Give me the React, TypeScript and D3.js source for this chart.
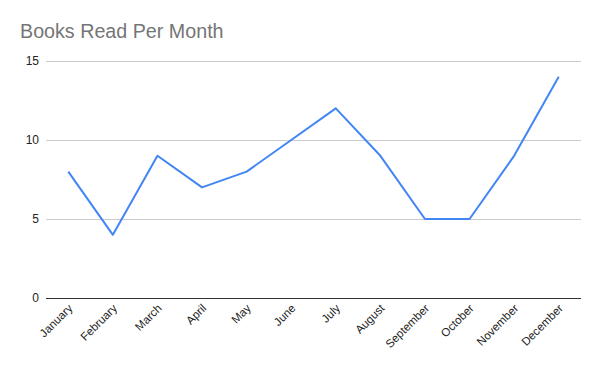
import React from 'react';
import * as d3 from 'd3';

const months = ['January', 'February', 'March', 'April', 'May', 'June', 'July', 'August', 'September', 'October', 'November', 'December'];
const booksRead = [8, 4, 9, 7, 8, 10, 12, 9, 5, 5, 9, 14];
const yTicks = [0, 5, 10, 15];

const App = () => {
  const width = 600;
  const height = 371;
  const margin = { top: 61, right: 19, bottom: 73, left: 46 };

  //point scale so each month sits in the middle of its slot
  const x = d3
    .scalePoint()
    .domain(months)
    .range([margin.left, width - margin.right])
    .padding(0.5);

  const y = d3
    .scaleLinear()
    .domain([0, 15])
    .range([height - margin.bottom, margin.top]);

  const line = d3
    .line<number>()
    .x((d, i) => x(months[i]) as number)
    .y((d) => y(d));

  const font = 'Arial, "Liberation Sans", sans-serif';

  return (
    <svg width={width} height={height} style={{ position: 'absolute', left: 0, top: 0 }} fontFamily={font}>
      <rect width={width} height={height} fill="#fff" />
      <text x={20} y={38} fontSize={19.7} fill="#757575">
        Books Read Per Month
      </text>
      {yTicks.map((t) => (
        <g key={t}>
          <line
            x1={margin.left}
            x2={width - margin.right}
            y1={y(t)}
            y2={y(t)}
            stroke={t === 0 ? '#333' : '#ccc'}
            strokeWidth={1}
            shapeRendering="crispEdges"
          />
          <text x={39} y={y(t) + 4} textAnchor="end" fontSize={12} fill="#222">
            {t}
          </text>
        </g>
      ))}
      <path d={line(booksRead) || ''} fill="none" stroke="#4285F4" strokeWidth={2} strokeLinejoin="round" />
      {months.map((m) => (
        <text
          key={m}
          transform={`translate(${(x(m) as number) + 5}, ${height - margin.bottom + 11}) rotate(-45)`}
          textAnchor="end"
          fontSize={11.5}
          fill="#222"
        >
          {m}
        </text>
      ))}
    </svg>
  );
};

export default App;
